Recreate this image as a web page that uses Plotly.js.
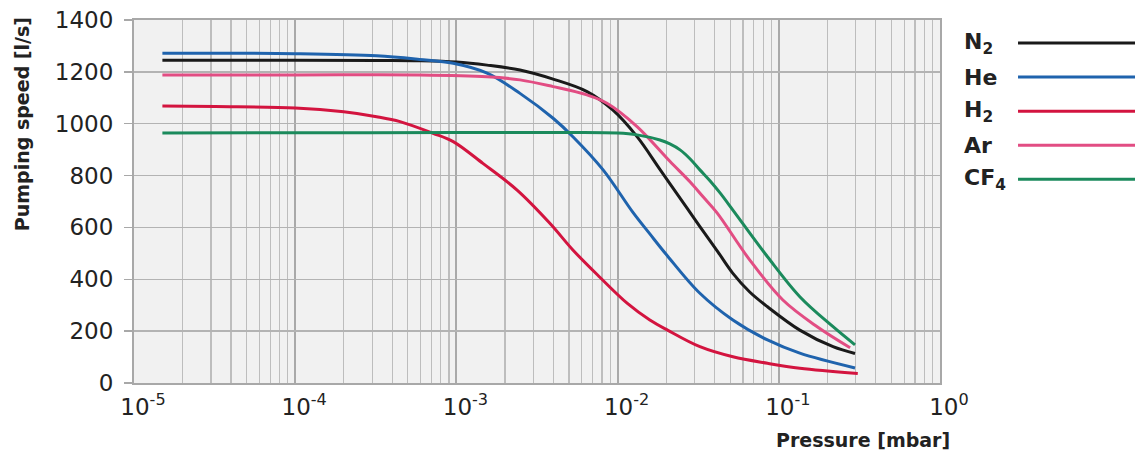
<!DOCTYPE html>
<html><head><meta charset="utf-8">
<script src="https://cdn.plot.ly/plotly-3.0.1.min.js"></script>
<style>html,body{margin:0;padding:0;background:#fff}#chart{width:1135px;height:453px}</style>
</head><body><div id="chart"></div>
<script>
// ---- data ----
var seriesNames = ["N<sub>2</sub>", "He", "H<sub>2</sub>", "Ar", "CF<sub>4</sub>"];
var seriesColors = ["#1a1a1a", "#1f63ad", "#d3143f", "#e24d83", "#1b8a5c"];

var n2P = [1.5e-5, 1e-4, 3.2e-4, 5.9e-4, 1e-3, 1.55e-3, 2.48e-3, 3.98e-3, 6.46e-3, 9.33e-3, 1.32e-2, 1.83e-2, 2.69e-2, 3.24e-2, 4.2e-2, 5.19e-2, 6.6e-2, 8.51e-2, 0.135, 0.217, 0.297];
var n2S = [1245, 1245, 1244, 1243, 1238, 1226, 1207, 1172, 1124, 1053, 950, 824, 675, 603, 505, 423, 351, 294, 204, 140, 114];

var heP = [1.5e-5, 1e-4, 3.2e-4, 5.9e-4, 9.55e-4, 1.55e-3, 2.48e-3, 3.98e-3, 5.28e-3, 8.13e-3, 1.245e-2, 1.585e-2, 2.04e-2, 3.24e-2, 5.19e-2, 8.51e-2, 0.135, 0.297];
var heS = [1272, 1270, 1262, 1248, 1233, 1195, 1117, 1021, 950, 822, 658, 575, 490, 346, 243, 166, 115, 58];

var h2P = [1.5e-5, 3.2e-5, 1e-4, 2e-4, 3.2e-4, 4.47e-4, 7.16e-4, 9.55e-4, 1.46e-3, 2.38e-3, 3.8e-3, 5.28e-3, 7.76e-3, 1.15e-2, 1.585e-2, 2.04e-2, 3.24e-2, 5.19e-2, 8.51e-2, 0.135, 0.309];
var h2S = [1068, 1066, 1061, 1046, 1027, 1008, 963, 931, 847, 744, 616, 513, 408, 307, 243, 204, 140, 101, 76, 57, 37];

var arP = [1.5e-5, 1e-4, 5.9e-4, 1.55e-3, 2.48e-3, 3.98e-3, 6.46e-3, 8.59e-3, 1.32e-2, 2.11e-2, 2.82e-2, 3.39e-2, 4.14e-2, 6.61e-2, 0.106, 0.173, 0.277];
var arS = [1188, 1188, 1188, 1181, 1169, 1143, 1111, 1079, 989, 855, 775, 718, 656, 474, 320, 217, 136];

var cf4P = [1.5e-5, 1e-4, 1e-3, 5e-3, 1e-2, 1.32e-2, 1.83e-2, 2.11e-2, 2.44e-2, 2.82e-2, 3.24e-2, 3.74e-2, 4.32e-2, 5.19e-2, 8.51e-2, 0.135, 0.217, 0.297];
var cf4S = [964, 965, 966, 966, 964, 957, 937, 922, 899, 864, 822, 780, 733, 667, 487, 333, 217, 147];

var xTickVals = [1e-5, 1e-4, 1e-3, 1e-2, 1e-1, 1];
var xTickText = ["10<sup>-5</sup>", "10<sup>-4</sup>", "10<sup>-3</sup>", "10<sup>-2</sup>", "10<sup>-1</sup>", "10<sup>0</sup>"];
var yTickVals = [0, 200, 400, 600, 800, 1000, 1200, 1400];

var xTitle = "Pressure [mbar]";
var yTitle = "Pumping speed [l/s]";

// ---- build ----
var xs = [n2P, heP, h2P, arP, cf4P];
var ys = [n2S, heS, h2S, arS, cf4S];
var traces = [];
for (var i = 0; i < xs.length; i++) {
  traces.push({
    x: xs[i], y: ys[i], type: "scatter", mode: "lines",
    name: seriesNames[i], showlegend: false,
    line: {color: seriesColors[i], width: 3, shape: "spline", smoothing: 1}
  });
}

var minorVals = [];
for (var e = -5; e < 0; e++) {
  for (var m = 2; m <= 9; m++) minorVals.push(m * Math.pow(10, e));
}

var font = "DejaVu Sans, Liberation Sans, Arial, sans-serif";
var annotations = [
  {text: "<b>" + xTitle + "</b>", xref: "paper", yref: "paper", x: 1.015, y: -0.157,
   xanchor: "right", yanchor: "middle", showarrow: false, font: {family: font, size: 19, color: "#222"}},
  {text: "<b>" + yTitle + "</b>", xref: "paper", yref: "paper", x: -0.139, y: 0.713,
   xanchor: "center", yanchor: "middle", textangle: -90, showarrow: false, font: {family: font, size: 19, color: "#222"}}
];
var shapes = [];
for (var k = 0; k < seriesNames.length; k++) {
  var yp = 0.9366 - k * 0.0939;
  annotations.push({text: "<b>" + seriesNames[k] + "</b>", xref: "paper", yref: "paper",
    x: 1.0273, y: yp, xanchor: "left", yanchor: "middle", showarrow: false,
    font: {family: font, size: 22, color: "#222"}});
  shapes.push({type: "line", xref: "paper", yref: "paper", x0: 1.0968, x1: 1.25, y0: yp, y1: yp,
    line: {color: seriesColors[k], width: 3}});
}

var layout = {
  width: 1135, height: 453,
  margin: {l: 134, r: 195, t: 20, b: 70},
  paper_bgcolor: "#ffffff", plot_bgcolor: "#f1f1f1",
  font: {family: font, color: "#222"},
  xaxis: {
    type: "log", range: [-5, 0],
    tickmode: "array", tickvals: xTickVals, ticktext: xTickText,
    tickfont: {family: font, size: 23, color: "#222"},
    ticklabelshift: 9, ticklabelstandoff: 2,
    ticks: "", showgrid: true, gridcolor: "#a9a9a9", gridwidth: 2,
    showline: true, linecolor: "#a8a8a8", linewidth: 2, mirror: true,
    zeroline: false,
    minor: {tickmode: "array", tickvals: minorVals, showgrid: true, gridcolor: "#bdbdbd", gridwidth: 1.2, ticks: ""}
  },
  yaxis: {
    range: [0, 1400], tickmode: "array", tickvals: yTickVals,
    tickfont: {family: font, size: 23, color: "#222"},
    ticks: "outside", ticklen: 8, tickcolor: "#a8a8a8", tickwidth: 1.5,
    ticklabelstandoff: 6,
    showgrid: true, gridcolor: "#b3b3b3", gridwidth: 1.5,
    showline: true, linecolor: "#a8a8a8", linewidth: 2, mirror: true,
    zeroline: false
  },
  annotations: annotations,
  shapes: shapes
};

Plotly.newPlot("chart", traces, layout, {staticPlot: true, displayModeBar: false});
</script></body></html>
